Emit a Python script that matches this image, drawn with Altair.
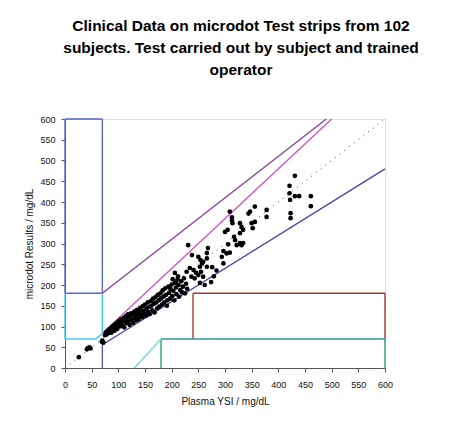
import altair as alt
import pandas as pd

# ---- grid lines (zone boundaries) ----
seg_x1 = [0, 70, 0, 0,      0, 58.33, 70, 0,      70, 70,     70,   70,      240, 240, 600,   180, 180, 600,   130]
seg_y1 = [180, 180, 600, 180, 70, 70, 84, 70,     0, 56,      180,  84,      70, 180, 70,     0, 70, 0,        0]
seg_x2 = [70, 70, 70, 0,    58.33, 70, 70, 0,     70, 600,    490,  500,     240, 600, 600,   180, 600, 600,   180]
seg_y2 = [180, 600, 600, 600, 70, 84, 180, 180,   56, 480,    600,  600,     180, 180, 180,   70, 70, 70,      70]
seg_color = ["#5566cc"] * 4 + ["#3cc8f0"] * 4 + ["#6655aa", "#4848a8", "#8a3fa0", "#d455c4"] + \
            ["#a83838"] * 3 + ["#2a9c8c"] * 3 + ["#70d8e8"]

# ---- identity line ----
id_x = [0]
id_y = [0]
id_x2 = [600]
id_y2 = [600]

# ---- measurements (Plasma YSI vs microdot) ----
xs_low = [26, 41, 43, 46, 48, 69, 72, 70]
ys_low = [26, 45, 48, 50, 47, 63, 61, 66]

xs_band = [75, 77, 78, 80, 81, 83, 84, 86, 87, 88, 90, 91, 93, 94, 95, 97, 98, 99, 101, 103,
           104, 105, 107, 108, 110, 111, 112, 114, 115, 117, 118, 119, 121, 122, 124, 125, 127,
           128, 130, 131, 133, 134, 135, 137, 138, 140, 141, 143, 145, 146, 147, 149, 150, 152,
           153, 155, 156, 158, 159, 161, 162, 164, 165, 167, 168, 170, 171, 173, 174, 176, 177,
           179, 180, 182, 183, 185, 186, 188, 189, 191, 192, 194, 195, 197, 198, 200, 201, 203,
           205, 206, 208, 209, 211, 213, 214, 216, 218, 219, 221, 223, 225, 227, 229]
ys_band = [79, 86, 81, 90, 84, 93, 87, 96, 85, 99, 94, 102, 90, 105, 98, 109, 94, 104, 113, 100,
           108, 117, 103, 112, 121, 98, 114, 125, 108, 119, 129, 112, 104, 124, 132, 116, 128,
           109, 136, 121, 131, 115, 140, 126, 118, 135, 145, 128, 122, 149, 138, 131, 153, 126,
           143, 158, 135, 147, 130, 161, 150, 139, 167, 155, 134, 171, 158, 144, 176, 163, 148,
           180, 168, 153, 187, 172, 158, 192, 176, 150, 163, 196, 181, 167, 190, 201, 173, 186,
           163, 206, 194, 178, 213, 200, 172, 188, 209, 183, 196, 216, 180, 203, 191]

xs_high = [231, 238, 250, 254, 257, 268, 266, 266, 259, 253, 266,
           234, 241, 228, 246, 250, 237, 243, 255, 259,
           206, 212, 202, 208,
           276, 284, 279, 274, 253, 262,
           297, 303, 309, 306, 297, 294, 322, 331,
           309, 313, 313, 314, 305, 300, 317, 319, 328, 334,
           347, 344, 331, 334, 328, 350, 352, 356, 356, 328,
           378, 378,
           421, 431, 421, 431, 439, 461, 422, 461, 423, 423]
ys_high = [296, 272, 268, 260, 252, 289, 277, 264, 256, 244, 244,
           241, 236, 232, 229, 224, 220, 216, 232, 220,
           229, 221, 214, 205,
           243, 235, 221, 207, 205, 200,
           282, 276, 278, 298, 252, 268, 296, 296,
           377, 363, 356, 349, 333, 328, 316, 308, 301, 301,
           377, 372, 340, 333, 325, 349, 337, 352, 389, 349,
           381, 364,
           439, 463, 421, 414, 414, 414, 405, 390, 373, 361]

tick_values = list(range(0, 601, 50))
title_lines = ["Clinical Data on microdot Test strips from 102",
               "subjects. Test carried out by subject and trained",
               "operator"]

seg_df = pd.DataFrame({"x": seg_x1, "y": seg_y1, "x2": seg_x2, "y2": seg_y2, "c": seg_color})
id_df = pd.DataFrame({"x": id_x, "y": id_y, "x2": id_x2, "y2": id_y2})
pts_df = pd.DataFrame({"x": xs_low + xs_band + xs_high, "y": ys_low + ys_band + ys_high})

xscale = alt.Scale(domain=[0, 600], nice=False, zero=True)
yscale = alt.Scale(domain=[0, 600], nice=False, zero=True)

xaxis = alt.Axis(title="Plasma YSI / mg/dL", values=tick_values, grid=False,
                 tickSize=4, labelPadding=8, titlePadding=7, labelFontSize=9,
                 titleFontSize=10, titleFontWeight="normal", labelFont="Liberation Sans",
                 titleFont="Liberation Sans", domainColor="#555555", tickColor="#555555",
                 labelColor="#111111", titleColor="#111111", labelFlush=False)
yaxis = alt.Axis(title="microdot Results / mg/dL", values=tick_values, grid=False,
                 tickSize=4, labelPadding=6, titlePadding=5, labelFontSize=9,
                 titleFontSize=10, titleFontWeight="normal", labelFont="Liberation Sans",
                 titleFont="Liberation Sans", domainColor="#555555", tickColor="#555555",
                 labelColor="#111111", titleColor="#111111", labelFlush=False)

segs = alt.Chart(seg_df).mark_rule(strokeWidth=1.4).encode(
    x=alt.X("x:Q", scale=xscale, axis=xaxis),
    y=alt.Y("y:Q", scale=yscale, axis=yaxis),
    x2="x2:Q", y2="y2:Q",
    color=alt.Color("c:N", scale=None),
)

ident = alt.Chart(id_df).mark_rule(strokeWidth=1, strokeDash=[1, 5], color="#444444").encode(
    x=alt.X("x:Q", scale=xscale, axis=xaxis),
    y=alt.Y("y:Q", scale=yscale, axis=yaxis),
    x2="x2:Q", y2="y2:Q",
)

points = alt.Chart(pts_df).mark_circle(size=22, color="#000000", opacity=1).encode(
    x=alt.X("x:Q", scale=xscale, axis=xaxis),
    y=alt.Y("y:Q", scale=yscale, axis=yaxis),
)

chart = alt.layer(segs, ident, points).properties(
    width=320, height=249,
    title=alt.TitleParams(text=title_lines, fontSize=15.5, fontWeight="bold",
                          font="Liberation Sans", anchor="middle", dx=16, offset=37,
                          lineHeight=22, color="#000000"),
    autosize=alt.AutoSizeParams(type="none"),
    padding={"left": 57, "top": 111, "right": 70, "bottom": 50},
).configure_view(stroke="#888888", strokeWidth=1.2).configure(background="white")

chart.save("out.html", embed_options={"renderer": "svg", "actions": False})
